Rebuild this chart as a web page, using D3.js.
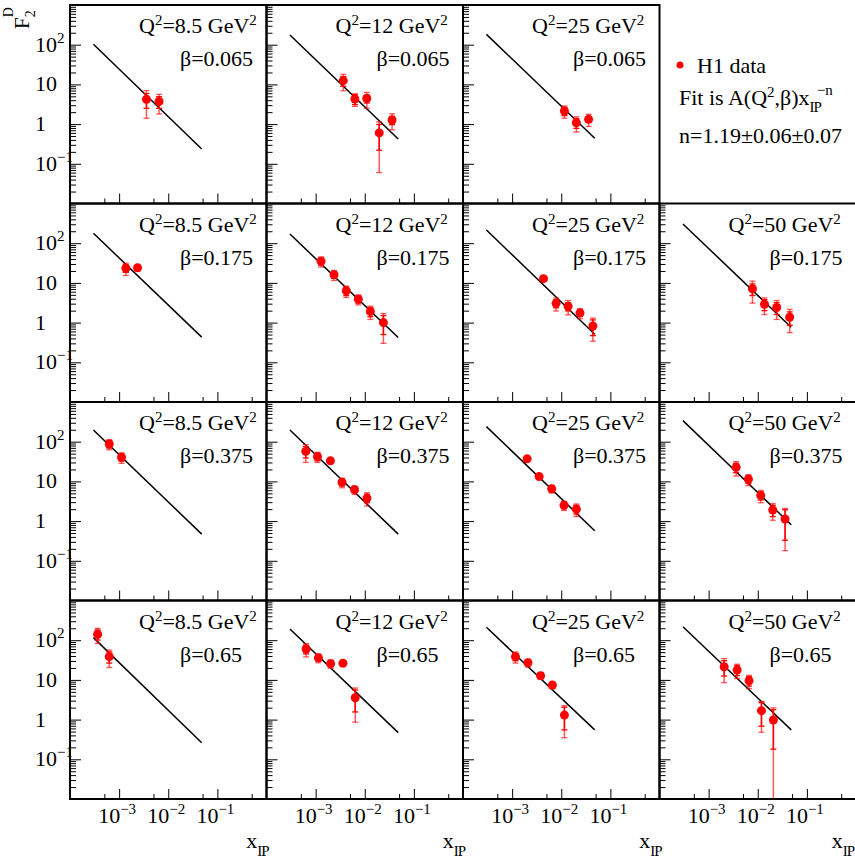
<!DOCTYPE html>
<html>
<head>
<meta charset="utf-8">
<script src="https://cdn.jsdelivr.net/npm/d3@7"></script>
<style>
body { margin: 0; background: #fff; }
</style>
</head>
<body>
<div id="main"></div>
<script>

// bin labels (columns = Q2, rows = beta)
var q2Labels = ["8.5", "12", "25", "50"];
var betaLabels = ["0.065", "0.175", "0.375", "0.65"];

// H1 points per panel: [x_IP, F2D, stat error, total error]
var q85_b065 = [[3.6e-3, 4.2, 1.7, 2.8], [6.5e-3, 3.7, 1.2, 1.9]];
var q12_b065 = [[3.65e-3, 12.4, 3.4, 5.5], [6.3e-3, 4.3, 1.2, 1.5], [1.1e-2, 4.4, 1.0, 1.9], [1.97e-2, 0.6, 0.38, 0.54], [3.6e-2, 1.27, 0.3, 0.55]];
var q25_b065 = [[1.16e-2, 2.14, 0.5, 0.73], [2.03e-2, 1.08, 0.3, 0.45], [3.6e-2, 1.32, 0.2, 0.45]];

var q85_b175 = [[1.37e-3, 23.4, 5, 8], [2.37e-3, 24, 3, 4]];
var q12_b175 = [[1.29e-3, 35, 7, 10], [2.37e-3, 16, 3, 4.5], [4.2e-3, 6.3, 1.5, 2], [7.4e-3, 3.9, 0.8, 1.1], [1.3e-2, 1.9, 0.5, 0.7], [2.4e-2, 1.0, 0.5, 0.7]];
var q25_b175 = [[4.35e-3, 12.8, 1, 1.5], [7.85e-3, 3.06, 0.7, 1.1], [1.38e-2, 2.57, 0.6, 1.0], [2.41e-2, 1.75, 0.3, 0.5], [4.4e-2, 0.82, 0.35, 0.48]];
var q50_b175 = [[7.8e-3, 7.1, 2.3, 4], [1.37e-2, 2.9, 0.9, 1.3], [2.43e-2, 2.4, 0.8, 1.2], [4.47e-2, 1.36, 0.5, 0.8]];

var q85_b375 = [[6.3e-4, 87.5, 18, 25], [1.12e-3, 40.5, 8, 12]];
var q12_b375 = [[6.3e-4, 57, 18, 27], [1.09e-3, 42, 9, 12], [2.0e-3, 33, 3, 5], [3.45e-3, 9.5, 1.8, 2.6], [6.2e-3, 6.2, 1, 1.5], [1.11e-2, 3.8, 0.9, 1.4]];
var q25_b375 = [[2.02e-3, 37, 3, 5], [3.55e-3, 13.2, 1.3, 2], [6.4e-3, 6.5, 1, 1.4], [1.14e-2, 2.5, 0.45, 0.65], [2.03e-2, 2.0, 0.5, 0.7]];
var q50_b375 = [[3.63e-3, 22.6, 6, 9], [6.45e-3, 11.3, 2.5, 3.5], [1.15e-2, 4.4, 1, 1.5], [2.02e-2, 1.9, 0.6, 0.85], [3.6e-2, 1.13, 0.8, 0.95]];

var q85_b65 = [[3.65e-4, 141, 40, 58], [6.3e-4, 38.5, 12, 18]];
var q12_b65 = [[6.4e-4, 60, 15, 22], [1.14e-3, 36, 6, 9], [2.02e-3, 25.7, 4, 6], [3.6e-3, 26.3, 2, 3], [6.4e-3, 3.56, 2, 2.7]];
var q25_b65 = [[1.17e-3, 38.5, 8, 12], [2.1e-3, 27, 4, 6], [3.8e-3, 12.8, 1.7, 2.5], [6.6e-3, 7.4, 1, 1.4], [1.16e-2, 1.3, 0.75, 0.95]];
var q50_b65 = [[2.07e-3, 21.5, 9, 13], [3.8e-3, 17.8, 5, 7], [6.65e-3, 9.5, 2.5, 3.5], [1.19e-2, 1.68, 1.0, 1.2], [2.08e-2, 0.98, 0.8, 1.0]];

// fit line A x^-n : value at both ends of the fitted x range
var fitX = [3e-4, 0.048];
var fitLow = [[103, 175, 182, null], [178, 170, 215, 305], [197, 197, 240, 339], [116, 191, 211, 219]];
var fitHigh = [[0.235, 0.42, 0.44, null], [0.43, 0.42, 0.51, 0.76], [0.47, 0.47, 0.57, 0.81], [0.26, 0.47, 0.55, 0.55]];

// axis ticks
var yTickVals = [0.1, 1, 10, 100];
var yTickText = [["10", "\u22121"], ["1", ""], ["10", ""], ["10", "2"]];
var xTickVals = [1e-3, 1e-2, 1e-1];
var xTickText = [["10", "\u22123"], ["10", "\u22122"], ["10", "\u22121"]];
var xMinorVals = [5e-4, 5e-3, 5e-2, 5e-1];

var grid = [
    [q85_b065, q12_b065, q25_b065, null],
    [q85_b175, q12_b175, q25_b175, q50_b175],
    [q85_b375, q12_b375, q25_b375, q50_b375],
    [q85_b65, q12_b65, q25_b65, q50_b65]
];

// dimensions
var svg_width = 855, svg_height = 859;
var margin = {top: 5, left: 70};
var pw = 196.5, ph = 198.5;
var fs = 22, sfs = 15;

var svg = d3.select("#main").append("svg")
    .attr("width", svg_width)
    .attr("height", svg_height)
    .attr("font-family", "'Liberation Serif', 'DejaVu Serif', serif");

var x = d3.scaleLog().domain([1e-4, 1]).range([0, pw]);
var y = d3.scaleLog().domain([1e-2, 1e3]).range([ph, 0]);

var yMinorVals = [];
[1e-2, 1e-1, 1, 10, 100].forEach(function (d) {
    for (var k = 2; k <= 9; k++) yMinorVals.push(k * d);
});

var red = "#ff0000";

function supText(sel, parts, shift) {
    sel.append("tspan").attr("font-size", fs).text(parts[0]);
    if (parts[1]) sel.append("tspan").attr("font-size", sfs).attr("dy", shift).text(parts[1]);
}

grid.forEach(function (row, r) {
    row.forEach(function (pts, c) {
        if (!pts) return;
        var g = svg.append("g")
            .attr("transform", "translate(" + (margin.left + c * pw) + "," + (margin.top + r * ph) + ")");

        // ticks, pointing inwards
        function ticks(axis) {
            var a = g.append("g").call(axis);
            a.select(".domain").remove();
            a.selectAll("line").attr("stroke", "#000").attr("stroke-width", 1);
            return a;
        }
        ticks(d3.axisRight(y).tickValues(yTickVals).tickSize(11).tickFormat(""));
        ticks(d3.axisRight(y).tickValues(yMinorVals).tickSize(6).tickFormat(""));
        ticks(d3.axisTop(x).tickValues(xTickVals).tickSize(10).tickFormat(""))
            .attr("transform", "translate(0," + ph + ")");
        ticks(d3.axisTop(x).tickValues(xMinorVals).tickSize(5).tickFormat(""))
            .attr("transform", "translate(0," + ph + ")");

        // fit
        var fit = [[fitX[0], fitLow[r][c]], [fitX[1], fitHigh[r][c]]];
        g.append("path")
            .attr("d", d3.line().x(function (d) { return x(d[0]); }).y(function (d) { return y(d[1]); })(fit))
            .attr("stroke", "#000").attr("stroke-width", 1.5).attr("fill", "none");

        // error bars: total (light) and stat (solid)
        var ymin = y.domain()[0];
        var eb = g.selectAll(".err").data(pts).enter().append("g").attr("class", "err");
        [[3, 0.65], [2, 1]].forEach(function (e) {
            eb.append("line")
                .attr("x1", function (d) { return x(d[0]); })
                .attr("x2", function (d) { return x(d[0]); })
                .attr("y1", function (d) { return y(d[1] + d[e[0]]); })
                .attr("y2", function (d) { return y(Math.max(d[1] - d[e[0]], ymin)); })
                .attr("stroke", red).attr("stroke-opacity", e[1]).attr("stroke-width", 1.5);
            [1, -1].forEach(function (s) {
                eb.filter(function (d) { return d[1] + s * d[e[0]] > ymin; })
                    .append("line")
                    .attr("x1", function (d) { return x(d[0]) - 3; })
                    .attr("x2", function (d) { return x(d[0]) + 3; })
                    .attr("y1", function (d) { return y(d[1] + s * d[e[0]]); })
                    .attr("y2", function (d) { return y(d[1] + s * d[e[0]]); })
                    .attr("stroke", red).attr("stroke-opacity", e[1]).attr("stroke-width", 1.3);
            });
        });
        g.selectAll(".pt").data(pts).enter().append("circle")
            .attr("class", "pt")
            .attr("cx", function (d) { return x(d[0]); })
            .attr("cy", function (d) { return y(d[1]); })
            .attr("r", 4.5)
            .attr("fill", red);

        // frame
        g.append("rect")
            .attr("width", pw).attr("height", ph)
            .attr("fill", "none").attr("stroke", "#000").attr("stroke-width", 2);

        // bin labels
        var t1 = g.append("text").attr("x", 69).attr("y", 28).attr("font-size", fs);
        t1.append("tspan").text("Q");
        t1.append("tspan").attr("font-size", sfs).attr("dy", -8).text("2");
        t1.append("tspan").attr("dy", 8).text("=" + q2Labels[c] + " GeV");
        t1.append("tspan").attr("font-size", sfs).attr("dy", -8).text("2");
        g.append("text").attr("x", 110).attr("y", 61).attr("font-size", fs)
            .text("\u03b2=" + betaLabels[r]);

        // y labels on first column
        if (c === 0) {
            yTickVals.forEach(function (v, i) {
                var t = svg.append("text")
                    .attr("x", 35)
                    .attr("y", margin.top + r * ph + y(v) + 7);
                supText(t, yTickText[i], -9);
            });
        }
    });
});

// x labels under bottom row
[0, 1, 2, 3].forEach(function (c) {
    var left = margin.left + c * pw;
    xTickVals.forEach(function (v, i) {
        var t = svg.append("text")
            .attr("x", left + x(v) - 2)
            .attr("y", 823)
            .attr("text-anchor", "middle");
        supText(t, xTickText[i], -9);
    });
    var xl = svg.append("text").attr("x", Math.min(left + pw + 2, 854)).attr("y", 848).attr("text-anchor", "end");
    xl.append("tspan").attr("font-size", fs).text("x");
    xl.append("tspan").attr("font-size", sfs).attr("dy", 8).attr("letter-spacing", -1).text("IP");
});

// y title
var yt = svg.append("text")
    .attr("transform", "translate(29,29) rotate(-90)");
yt.append("tspan").attr("font-size", 21).text("F");
yt.append("tspan").attr("font-size", 14).attr("dy", 6).text("2");
yt.append("tspan").attr("font-size", 14).attr("dx", -7).attr("dy", -22).text("D");

// legend
svg.append("circle").attr("cx", 680).attr("cy", 65).attr("r", 3.5).attr("fill", red);
svg.append("text").attr("x", 697).attr("y", 73).attr("font-size", fs).text("H1 data");
var lf = svg.append("text").attr("x", 679).attr("y", 105).attr("font-size", fs);
lf.append("tspan").text("Fit is A(Q");
lf.append("tspan").attr("font-size", sfs).attr("dy", -8).text("2");
lf.append("tspan").attr("dy", 8).text(",\u03b2)x");
lf.append("tspan").attr("font-size", sfs).attr("dy", 7).attr("letter-spacing", -1).text("IP");
lf.append("tspan").attr("font-size", sfs).attr("dx", -4).attr("dy", -17).text("\u2212n");
svg.append("text").attr("x", 679).attr("y", 143).attr("font-size", fs).text("n=1.19\u00b10.06\u00b10.07");

</script>
</body>
</html>
